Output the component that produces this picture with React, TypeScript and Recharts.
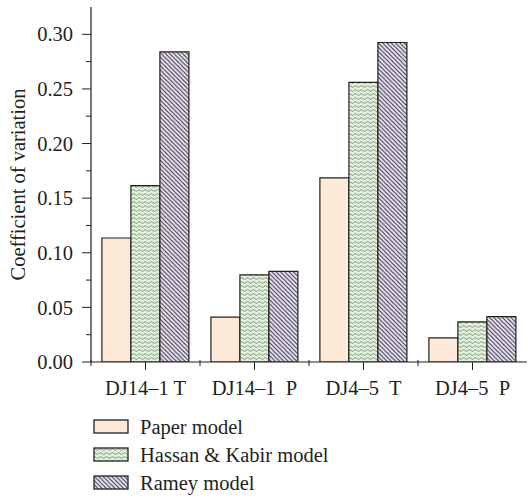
import React from 'react';
import { BarChart, Bar, XAxis, YAxis, Legend } from 'recharts';

// Sample groups and coefficient of variation per model
const categories = ['DJ14–1 T', 'DJ14–1  P', 'DJ4–5  T', 'DJ4–5  P'];
const paperModel = [0.1135, 0.041, 0.1685, 0.022];
const hassanKabirModel = [0.1615, 0.0798, 0.256, 0.0367];
const rameyModel = [0.284, 0.083, 0.2925, 0.0416];
const yTicks = [0, 0.025, 0.05, 0.075, 0.1, 0.125, 0.15, 0.175, 0.2, 0.225, 0.25, 0.275, 0.3];
const seriesNames = ['Paper model', 'Hassan & Kabir model', 'Ramey model'];

const data = categories.map((name, i) => ({
  name,
  paper: paperModel[i],
  hassan: hassanKabirModel[i],
  ramey: rameyModel[i],
}));

const W = 528;
const H = 501;
const MARGIN = { top: 7, right: 1, bottom: 99, left: 0 };
const Y_AXIS_W = 91;
const X_AXIS_H = 40;
const FONT = '"Liberation Serif", "Times New Roman", serif';
const FS = 20.5;
const TEXT = '#231f20';
const plotWidth = W - MARGIN.left - MARGIN.right - Y_AXIS_W;
const halfBand = plotWidth / categories.length / 2;

const fills = ['#fde9d8', 'url(#waves)', 'url(#stripes)'];

const YTick = (props: any) => {
  const { x, y, payload } = props;
  const v = payload.value as number;
  const major = Math.abs(Math.round(v * 20) - v * 20) < 1e-6;
  return (
    <g>
      <line x1={x} x2={x - (major ? 9 : 5)} y1={y} y2={y} stroke={TEXT} strokeWidth={1} />
      {major && (
        <text x={x - 18} y={y} dy="0.35em" textAnchor="end" fontFamily={FONT} fontSize={FS} fill={TEXT}>
          {v.toFixed(2)}
        </text>
      )}
    </g>
  );
};

const XTick = (props: any) => {
  const { x, y, payload } = props;
  return (
    <g>
      <line x1={x} x2={x} y1={y} y2={y + 8} stroke={TEXT} strokeWidth={1} />
      <line x1={x - halfBand} x2={x - halfBand} y1={y - 2} y2={y + 4} stroke={TEXT} strokeWidth={1} />
      <text
        x={x}
        y={y + 33}
        textAnchor="middle"
        fontFamily={FONT}
        fontSize={FS}
        fill={TEXT}
        style={{ whiteSpace: 'pre' }}
      >
        {payload.value}
      </text>
    </g>
  );
};

const LegendContent = () => (
  <div style={{ fontFamily: FONT, fontSize: FS, color: TEXT }}>
    {seriesNames.map((n, i) => (
      <div key={n} style={{ display: 'flex', alignItems: 'center', height: 28 }}>
        <svg width={36} height={16} style={{ marginRight: 11 }}>
          <rect x={1} y={1} width={34} height={13} fill={fills[i]} stroke={TEXT} strokeWidth={1.3} />
        </svg>
        <span>{n}</span>
      </div>
    ))}
  </div>
);

export default function App() {
  return (
    <div style={{ position: 'absolute', left: 0, top: 0, width: W, height: H, background: '#fff' }}>
      <BarChart width={W} height={H} data={data} margin={MARGIN} barCategoryGap="10%" barGap={0}>
        <defs>
          <pattern id="waves" width={6} height={4} patternUnits="userSpaceOnUse">
            <rect width={6} height={4} fill="#e4f0de" />
            <path d="M0 2.5 Q1.5 0.7 3 2.5 T6 2.5" fill="none" stroke="#567f56" strokeWidth={0.75} />
          </pattern>
          <pattern id="stripes" width={4.3} height={4.3} patternUnits="userSpaceOnUse">
            <rect width={4.3} height={4.3} fill="#ebe4f3" />
            <path d="M-1 -1 L5.3 5.3 M-1 3.3 L1 5.3 M3.3 -1 L5.3 1" stroke="#2f2b3c" strokeWidth={1} />
          </pattern>
        </defs>
        <XAxis
          dataKey="name"
          height={X_AXIS_H}
          axisLine={{ stroke: TEXT, strokeWidth: 1.2 }}
          tickLine={false}
          tickSize={0}
          tickMargin={0}
          tick={<XTick />}
          interval={0}
        />
        <XAxis
          xAxisId="top"
          dataKey="name"
          orientation="top"
          height={0}
          tick={false}
          tickLine={false}
          axisLine={{ stroke: TEXT, strokeWidth: 1.2 }}
        />
        <YAxis
          width={Y_AXIS_W}
          domain={[0, 0.325]}
          ticks={yTicks}
          interval={0}
          allowDataOverflow
          axisLine={{ stroke: TEXT, strokeWidth: 1.2 }}
          tickLine={false}
          tickSize={0}
          tickMargin={0}
          tick={<YTick />}
          label={{
            value: 'Coefficient of variation',
            angle: -90,
            position: 'insideLeft',
            dx: 13,
            style: { fontFamily: FONT, fontSize: FS, fill: TEXT, textAnchor: 'middle' },
          }}
        />
        <Legend
          layout="horizontal"
          verticalAlign="middle"
          align="center"
          wrapperStyle={{ left: 93, top: 413, width: 320, height: 90 }}
          content={<LegendContent />}
        />
        <Bar dataKey="paper" name={seriesNames[0]} fill={fills[0]} stroke={TEXT} strokeWidth={1.2} isAnimationActive={false} />
        <Bar dataKey="hassan" name={seriesNames[1]} fill={fills[1]} stroke={TEXT} strokeWidth={1.2} isAnimationActive={false} />
        <Bar dataKey="ramey" name={seriesNames[2]} fill={fills[2]} stroke={TEXT} strokeWidth={1.2} isAnimationActive={false} />
      </BarChart>
    </div>
  );
}
